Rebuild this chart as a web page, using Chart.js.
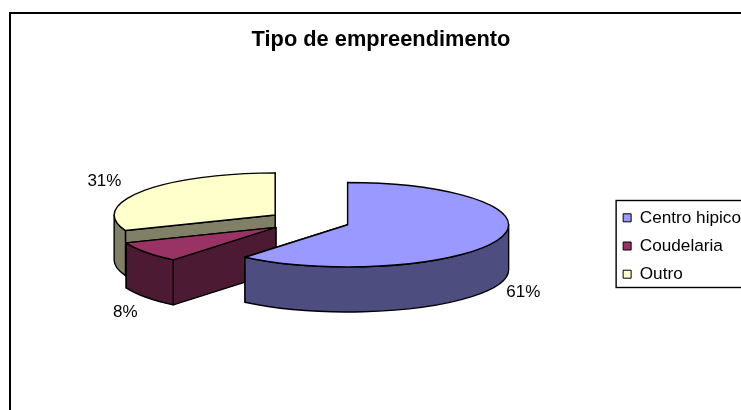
<!DOCTYPE html>
<html>
<head>
<meta charset="utf-8">
<script src="https://cdn.jsdelivr.net/npm/chart.js@4"></script>
<style>
  html,body{margin:0;padding:0;background:#fff;overflow:hidden;width:741px;height:410px}
  #frame{position:absolute;left:9px;top:12px;width:750px;height:480px;border:2px solid #000;box-sizing:border-box;overflow:hidden}
  canvas{display:block}
</style>
</head>
<body>
<div id="frame"><canvas id="c" width="740" height="464"></canvas></div>
<script>
// Tipo de empreendimento, pie 3D
const categories = ['Centro hipico','Coudelaria','Outro'];
const values = [61,8,31];
const topColors = ['#9999ff','#993366','#ffffcc'];
const sideColors = ['#4d4d80','#4d1a33','#808066'];
const fontFamily = '"Liberation Sans", Arial, sans-serif';

const squash = 0.262, depth = 45, explode = 41, radius = 161;
const shiftX = -2.5, shiftY = -49;                // pie centre vs chart area centre
const labelNudge = [[11,52],[-9,58],[-26,-8]];    // label vs arc mid point

function project(a, cx, cy, r){
  return [cx + Math.cos(a)*r, cy + Math.sin(a)*r*squash];
}

// paths are built in squashed space and stroked afterwards so lines stay even
function outerArcPath(ctx, cx, cy, from, to, ccw){
  ctx.save();
  ctx.translate(cx, cy);
  ctx.scale(1, squash);
  ctx.arc(0, 0, radius, from, to, ccw);
  ctx.restore();
}

function paint(ctx, fill){
  ctx.fillStyle = fill;
  ctx.fill();
  ctx.stroke();
}

function drawRadialFace(ctx, cx, cy, a, fill){
  const p = project(a, cx, cy, radius);
  ctx.beginPath();
  ctx.moveTo(cx, cy);
  ctx.lineTo(p[0], p[1]);
  ctx.lineTo(p[0], p[1] + depth);
  ctx.lineTo(cx, cy + depth);
  ctx.closePath();
  paint(ctx, fill);
}

function sliceCentre(arc){
  const mid = (arc.startAngle + arc.endAngle)/2;
  return [
    arc.x + shiftX + Math.cos(mid)*explode,
    arc.y + shiftY + Math.sin(mid)*explode*squash
  ];
}

const pie3d = {
  id: 'pie3d',
  beforeDatasetsDraw(chart){
    const ctx = chart.ctx;
    const arcs = chart.getDatasetMeta(0).data;
    ctx.save();
    ctx.lineWidth = 1.4;
    ctx.strokeStyle = '#000';
    ctx.lineJoin = 'round';
    // back to front
    for (let i = arcs.length - 1; i >= 0; i--){
      const arc = arcs[i];
      const s = arc.startAngle, e = arc.endAngle;
      const [cx, cy] = sliceCentre(arc);
      [s, e].sort((a,b)=>Math.sin(a)-Math.sin(b))
        .forEach(a=>drawRadialFace(ctx, cx, cy, a, sideColors[i]));
      // outer wall, only the front half shows
      const from = Math.max(s, 0), to = Math.min(e, Math.PI);
      if (to > from){
        ctx.beginPath();
        outerArcPath(ctx, cx, cy, from, to, false);
        outerArcPath(ctx, cx, cy + depth, to, from, true);
        ctx.closePath();
        paint(ctx, sideColors[i]);
      }
      // top
      ctx.beginPath();
      ctx.moveTo(cx, cy);
      outerArcPath(ctx, cx, cy, s, e, false);
      ctx.closePath();
      paint(ctx, topColors[i]);
    }
    // value labels
    ctx.fillStyle = '#000';
    ctx.font = '17px ' + fontFamily;
    ctx.textAlign = 'center';
    ctx.textBaseline = 'middle';
    arcs.forEach((arc,i)=>{
      const [cx, cy] = sliceCentre(arc);
      const p = project((arc.startAngle + arc.endAngle)/2, cx, cy, radius + 14);
      ctx.fillText(values[i] + '%', p[0] + labelNudge[i][0], p[1] + labelNudge[i][1]);
    });
    ctx.restore();
    return false;
  },
  afterDraw(chart){
    // legend frame
    const l = chart.legend, ctx = chart.ctx;
    ctx.save();
    ctx.strokeStyle = '#000';
    ctx.lineWidth = 1.4;
    ctx.strokeRect(l.left + 4, l.top + (l.height - 87)/2 - 2, 200, 87);
    ctx.restore();
  }
};

new Chart(document.getElementById('c'), {
  type: 'pie',
  data: {
    labels: categories,
    datasets: [{data: values, backgroundColor: topColors, borderColor: '#000', borderWidth: 1, radius: radius}]
  },
  options: {
    responsive: false,
    animation: false,
    plugins: {
      title: {
        display: true,
        text: 'Tipo de empreendimento',
        color: '#000',
        font: {family: fontFamily, size: 21.8, weight: 'bold'},
        padding: {top: 13, bottom: 9}
      },
      legend: {
        position: 'right',
        labels: {
          boxWidth: 8, boxHeight: 8, padding: 11, color: '#000',
          font: {family: fontFamily, size: 17.2}
        }
      },
      tooltip: {enabled: false}
    }
  },
  plugins: [pie3d]
});
</script>
</body>
</html>
